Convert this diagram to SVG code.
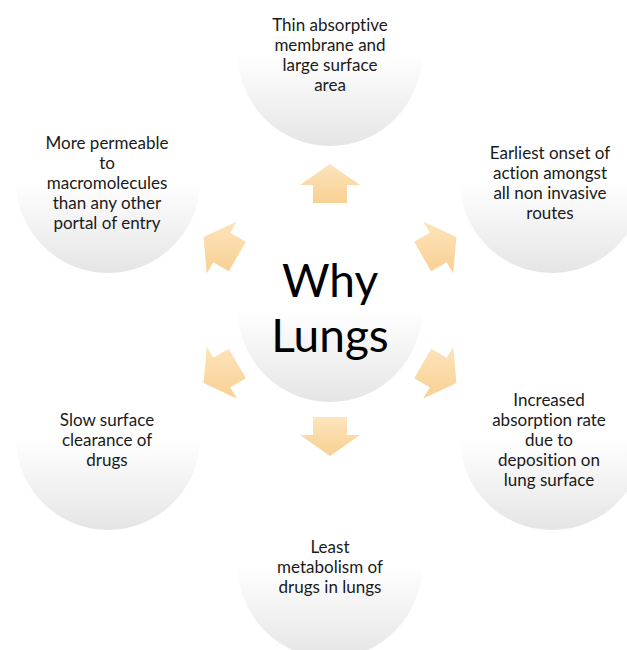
<svg xmlns="http://www.w3.org/2000/svg" width="627" height="650" viewBox="0 0 627 650">
  <defs>
    <linearGradient id="circleFill" x1="0" y1="0" x2="0" y2="1">
      <stop offset="0" stop-color="#ffffff"/>
      <stop offset="0.5" stop-color="#ffffff"/>
      <stop offset="1" stop-color="#e5e5e5"/>
    </linearGradient>
    <linearGradient id="arrowFill" x1="0" y1="0" x2="0" y2="1">
      <stop offset="0" stop-color="#fde4bb"/>
      <stop offset="1" stop-color="#f8d093"/>
    </linearGradient>
    <style>
      .bubble { fill: url(#circleFill); }
      .arrow { fill: url(#arrowFill); }
      .label { font-family: Lato, "Open Sans", sans-serif; font-size: 17px; fill: #1a1a1a; text-anchor: middle; font-variant-ligatures: none; }
      .title { font-family: Lato, "Open Sans", sans-serif; font-size: 46px; fill: #000000; text-anchor: middle; font-variant-ligatures: none; }
    </style>
  </defs>
  <rect width="627" height="650" fill="#ffffff"/>

  <g id="node-center">
    <circle class="bubble" cx="330" cy="310" r="92"/>
    <text class="title" x="330" y="297">Why</text>
    <text class="title" x="330" y="352">Lungs</text>
  </g>

  <g id="node-top">
    <circle class="bubble" cx="330" cy="54" r="92"/>
    <text class="label" x="330" y="31">Thin absorptive</text>
    <text class="label" x="330" y="51">membrane and</text>
    <text class="label" x="330" y="71">large surface</text>
    <text class="label" x="330" y="91">area</text>
  </g>

  <g id="node-upper-right">
    <circle class="bubble" cx="552" cy="181" r="92"/>
    <text class="label" x="550" y="159">Earliest onset of</text>
    <text class="label" x="550" y="179">action amongst</text>
    <text class="label" x="550" y="199">all non invasive</text>
    <text class="label" x="550" y="219">routes</text>
  </g>

  <g id="node-lower-right">
    <circle class="bubble" cx="552" cy="438" r="92"/>
    <text class="label" x="549" y="406">Increased</text>
    <text class="label" x="549" y="426">absorption rate</text>
    <text class="label" x="549" y="446">due to</text>
    <text class="label" x="549" y="466">deposition on</text>
    <text class="label" x="549" y="486">lung surface</text>
  </g>

  <g id="node-bottom">
    <circle class="bubble" cx="330" cy="566" r="92"/>
    <text class="label" x="330" y="553">Least</text>
    <text class="label" x="330" y="573">metabolism of</text>
    <text class="label" x="330" y="593">drugs in lungs</text>
  </g>

  <g id="node-lower-left">
    <circle class="bubble" cx="108" cy="438" r="92"/>
    <text class="label" x="107" y="426">Slow surface</text>
    <text class="label" x="107" y="446">clearance of</text>
    <text class="label" x="107" y="466">drugs</text>
  </g>

  <g id="node-upper-left">
    <circle class="bubble" cx="108" cy="181" r="92"/>
    <text class="label" x="107" y="149">More permeable</text>
    <text class="label" x="107" y="169">to</text>
    <text class="label" x="107" y="189">macromolecules</text>
    <text class="label" x="107" y="209">than any other</text>
    <text class="label" x="107" y="229">portal of entry</text>
  </g>

  <g id="connectors">
    <polygon class="arrow" points="313,203 313,185 300,185 330,164 360,185 347,185 347,203"/>
    <polygon class="arrow" points="414.16,241.78 429.75,232.78 423.25,221.52 456.44,237 453.25,273.48 446.75,262.22 431.16,271.22"/>
    <polygon class="arrow" points="431.16,348.78 446.75,357.78 453.25,346.52 456.44,383 423.25,398.48 429.75,387.22 414.16,378.22"/>
    <polygon class="arrow" points="347,417 347,435 360,435 330,456 300,435 313,435 313,417"/>
    <polygon class="arrow" points="245.84,378.22 230.25,387.22 236.75,398.48 203.56,383 206.75,346.52 213.25,357.78 228.84,348.78"/>
    <polygon class="arrow" points="228.84,271.22 213.25,262.22 206.75,273.48 203.56,237 236.75,221.52 230.25,232.78 245.84,241.78"/>
  </g>
</svg>
